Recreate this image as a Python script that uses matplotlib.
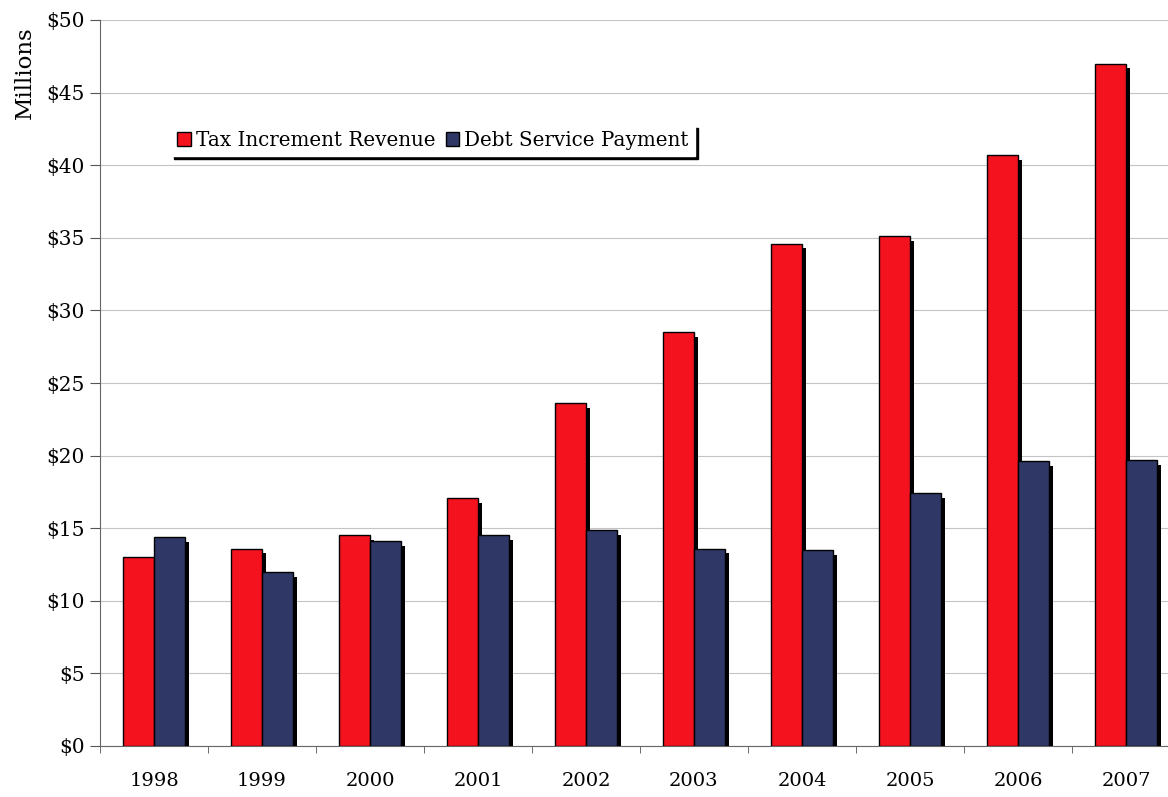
import matplotlib
matplotlib.use("Agg")
import matplotlib.pyplot as plt
import matplotlib.patheffects as pe
import numpy as np

years = ["1998", "1999", "2000", "2001", "2002", "2003", "2004", "2005", "2006", "2007"]
tax_revenue = [13.0, 13.6, 14.5, 17.1, 23.6, 28.5, 34.6, 35.1, 40.7, 47.0]
debt_service = [14.4, 12.0, 14.1, 14.5, 14.9, 13.6, 13.5, 17.4, 19.6, 19.7]

plt.rcParams['font.family'] = ['DejaVu Serif']

fig = plt.figure(figsize=(11.68, 7.97), dpi=100)
ax = fig.add_axes([100/1168, 51/797, 1080/1168, 726/797])

x = np.arange(len(years))
w = 0.29
shadow = [pe.SimplePatchShadow(offset=(3, -3.5), shadow_rgbFace='black', alpha=1.0), pe.Normal()]

b1 = ax.bar(x - w/2, tax_revenue, w, color='#F4121F', edgecolor='black', linewidth=1,
            label='Tax Increment Revenue', zorder=3)
b2 = ax.bar(x + w/2, debt_service, w, color='#2E3766', edgecolor='black', linewidth=1,
            label='Debt Service Payment', zorder=3)
for b in list(b1) + list(b2):
    b.set_path_effects(shadow)

ax.set_xlim(-0.5, len(years) - 0.5)
ax.set_ylim(0, 50)
ax.set_yticks(np.arange(0, 51, 5))
ax.set_yticklabels([f"${v}" for v in range(0, 51, 5)], fontsize=14.5)
ax.set_xticks(x)
ax.set_xticklabels(years, fontsize=14)
ax.set_xticks(np.arange(-0.5, len(years), 1), minor=True)
ax.tick_params(axis='x', which='major', length=0, pad=19)
ax.tick_params(axis='x', which='minor', length=5, color='#555555', direction='out')
ax.tick_params(axis='y', length=7, color='#555555', pad=4)

ax.grid(axis='y', color='#c4c4c4', linewidth=0.8, zorder=0)
ax.set_axisbelow(True)
for s in ['top', 'right']:
    ax.spines[s].set_visible(False)
ax.spines['left'].set_color('#666666')
ax.spines['bottom'].set_color('#666666')

ax.set_ylabel('Millions', fontsize=16.5, fontweight='medium')
ax.yaxis.set_label_coords(-0.059, 0.928)

leg = ax.legend(loc='upper left', bbox_to_anchor=(0.066, 0.855), ncol=2, fontsize=14.3,
                frameon=True, fancybox=False, shadow={'color': 'black', 'alpha': 1.0},
                handlelength=0.7, handleheight=0.7, handletextpad=0.25, columnspacing=0.5,
                borderpad=0.3, borderaxespad=0)
leg.get_frame().set_edgecolor('white')
leg.get_frame().set_facecolor('white')
leg.get_frame().set_alpha(1.0)
for h in leg.legend_handles:
    h.set_path_effects([pe.Normal()])

fig.savefig("out.png", dpi=100)
